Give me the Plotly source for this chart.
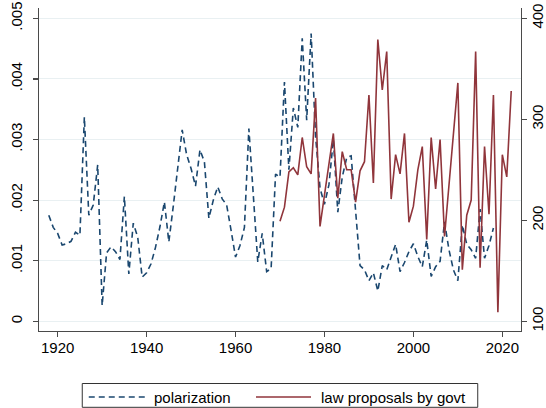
import plotly.graph_objects as go

# --- data ---
pol_years = list(range(1918, 2019))
polarization = [
    0.00175, 0.00155, 0.00145, 0.00126, 0.00128, 0.00132, 0.00147, 0.00142, 0.00337, 0.00175,
    0.00192, 0.00258, 0.00026, 0.00113, 0.00123, 0.00115, 0.00102, 0.00206, 0.00078, 0.00162,
    0.00139, 0.00073, 0.00080, 0.00095, 0.00122, 0.00156, 0.00197, 0.00131, 0.00190, 0.00250,
    0.00316, 0.00275, 0.00252, 0.00223, 0.00283, 0.00263, 0.00170, 0.00200, 0.00222, 0.00202,
    0.00192, 0.00150, 0.00106, 0.00125, 0.00155, 0.00318, 0.00200, 0.00098, 0.00145, 0.00082,
    0.00087, 0.00243, 0.00238, 0.00395, 0.00250, 0.00352, 0.00320, 0.00467, 0.00332, 0.00475,
    0.00305, 0.00220, 0.00193, 0.00225, 0.00300, 0.00180, 0.00238, 0.00270, 0.00273, 0.00185,
    0.00092, 0.00085, 0.00067, 0.00080, 0.00050, 0.00092, 0.00085, 0.00106, 0.00127, 0.00082,
    0.00097, 0.00115, 0.00128, 0.00107, 0.00090, 0.00134, 0.00074, 0.00090, 0.00099, 0.00164,
    0.00118, 0.00085, 0.00067, 0.00159, 0.00127, 0.00118, 0.00104, 0.00185, 0.00104, 0.00125,
    0.00154,
]

law_years = list(range(1970, 2023))
law_proposals = [
    199, 213, 248, 252, 245, 282, 253, 246, 321, 194,
    225, 256, 286, 222, 268, 250, 250, 218, 249, 258,
    324, 237, 379, 329, 367, 221, 265, 246, 286, 198,
    214, 250, 273, 181, 282, 231, 280, 184, 234, 284,
    336, 151, 205, 220, 367, 153, 273, 206, 324, 109,
    265, 243, 328,
]

series_names = ["polarization", "law proposals by govt"]
x_tick_vals = [1920, 1940, 1960, 1980, 2000, 2020]
y1_tick_vals = [0, 0.001, 0.002, 0.003, 0.004, 0.005]
y1_tick_text = ["0", ".001", ".002", ".003", ".004", ".005"]
y2_tick_vals = [100, 200, 300, 400]

BLUE = "#1a476f"
RED = "#90353b"
AXIS = "#4a4a4a"
GRID = "#e9f0f2"
FONT = "Liberation Sans, Arial, sans-serif"
DASH = "6px,4px"

W, H = 546, 408
L, R, T, B = 39.3, 546 - 520.7, 8, 408 - 331
PW, PH = W - L - R, H - T - B


def px(xp):
    return (xp - L) / PW


def py(yp):
    return (H - B - yp) / PH


fig = go.Figure()
fig.add_trace(go.Scatter(
    x=pol_years, y=polarization, mode="lines", name=series_names[0],
    line=dict(color=BLUE, width=1.6, dash=DASH), yaxis="y", showlegend=False,
))
fig.add_trace(go.Scatter(
    x=law_years, y=law_proposals, mode="lines", name=series_names[1],
    line=dict(color=RED, width=1.6), yaxis="y2", showlegend=False,
))

axis_common = dict(
    zeroline=False, showline=True, linecolor=AXIS, linewidth=1.2,
    ticks="outside", ticklen=5, tickcolor=AXIS, tickwidth=1.2,
    tickfont=dict(family=FONT, size=15), automargin=False,
    ticklabeloverflow="allow",
)

LEG_Y = 397
shapes = [
    dict(type="rect", xref="paper", yref="paper",
         x0=px(82.5), x1=px(477.5), y0=py(407.3), y1=py(383.5),
         line=dict(color="#333", width=1), fillcolor="white", layer="above"),
    dict(type="line", xref="paper", yref="paper",
         x0=px(89), x1=px(146), y0=py(LEG_Y), y1=py(LEG_Y),
         line=dict(color=BLUE, width=1.6, dash=DASH), layer="above"),
    dict(type="line", xref="paper", yref="paper",
         x0=px(256), x1=px(311), y0=py(LEG_Y), y1=py(LEG_Y),
         line=dict(color=RED, width=1.6), layer="above"),
]
annotations = [
    dict(text=series_names[0], xref="paper", yref="paper", x=px(152), y=py(LEG_Y),
         xanchor="left", yanchor="middle", showarrow=False,
         font=dict(family=FONT, size=15, color="#000")),
    dict(text=series_names[1], xref="paper", yref="paper", x=px(319), y=py(LEG_Y),
         xanchor="left", yanchor="middle", showarrow=False,
         font=dict(family=FONT, size=15, color="#000")),
]

fig.update_layout(
    width=W, height=H,
    margin=dict(l=L, r=R, t=T, b=B, pad=0, autoexpand=False),
    paper_bgcolor="white", plot_bgcolor="white",
    font=dict(family=FONT, size=15, color="#000"),
    showlegend=False, hovermode=False,
    shapes=shapes, annotations=annotations,
    xaxis=dict(range=[1915.8, 2024.2], tickvals=x_tick_vals, showgrid=False,
               ticklabelstandoff=-2, **axis_common),
    yaxis=dict(range=[-0.00016, 0.00517], tickvals=y1_tick_vals, ticktext=y1_tick_text,
               tickangle=-90, showgrid=True, gridcolor=GRID, gridwidth=1,
               ticklabelstandoff=5, **axis_common),
    yaxis2=dict(range=[90.4, 410.2], tickvals=y2_tick_vals, overlaying="y", side="right",
                tickangle=-90, showgrid=False, ticklabelstandoff=-2, **axis_common),
)

# remove the browser's default 8px body margin so the figure fills the window
fig.write_html(
    "out.html",
    config={"displayModeBar": False, "staticPlot": True},
    post_script="document.body.style.margin='0';document.body.style.overflow='hidden';",
)
